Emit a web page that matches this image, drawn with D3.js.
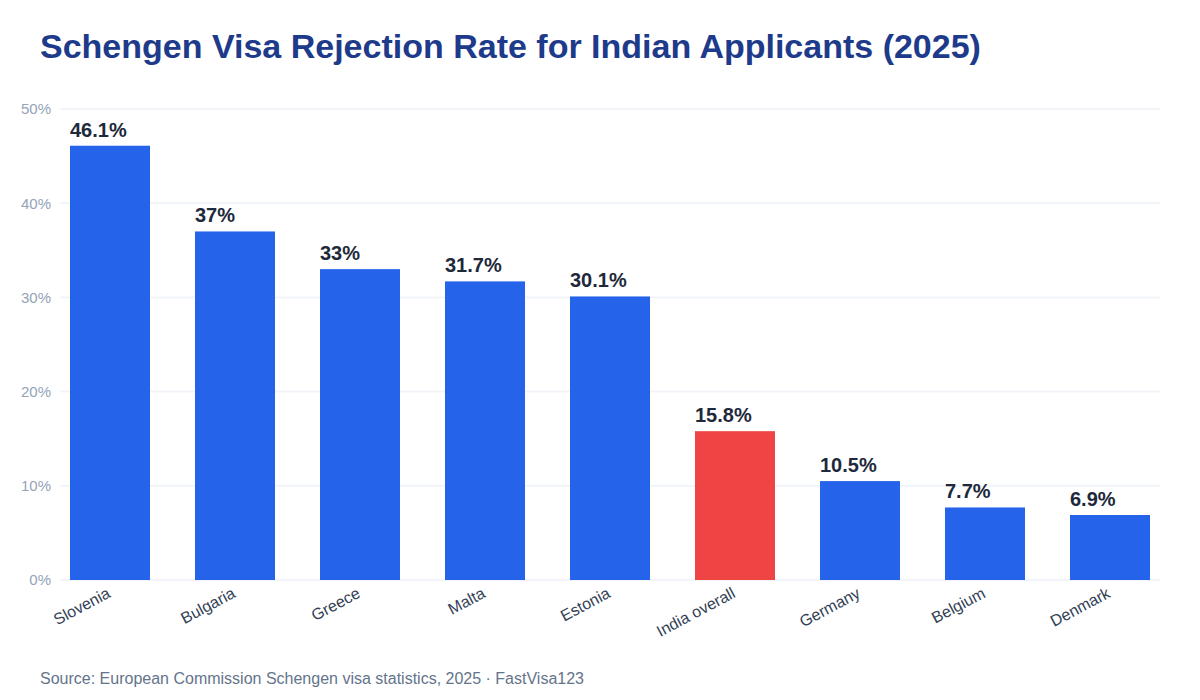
<!DOCTYPE html>
<html>
<head>
<meta charset="utf-8">
<script src="https://cdn.jsdelivr.net/npm/d3@7"></script>
<style>
  body { margin: 0; background: #fff; }
  svg text { font-family: "Liberation Sans", Arial, sans-serif; }
</style>
</head>
<body>
<svg width="1200" height="700"></svg>
<script>
// chart data
var countries = ["Slovenia", "Bulgaria", "Greece", "Malta", "Estonia", "India overall", "Germany", "Belgium", "Denmark"];
var rates = [46.1, 37, 33, 31.7, 30.1, 15.8, 10.5, 7.7, 6.9];
var highlight = "India overall";
var yTicks = [0, 10, 20, 30, 40, 50];

var svg = d3.select("svg");
var plotLeft = 60, plotRight = 1160, plotTop = 109, plotBottom = 580;

svg.append("text")
    .attr("x", 40).attr("y", 58)
    .attr("fill", "#1e3a8a")
    .attr("font-size", "34px")
    .attr("font-weight", "bold")
    .text("Schengen Visa Rejection Rate for Indian Applicants (2025)");

var x = d3.scaleBand()
    .domain(countries)
    .range([plotLeft, plotRight])
    .paddingInner(0.36)
    .paddingOuter(0.08);

var y = d3.scaleLinear()
    .domain([0, 50])
    .range([plotBottom, plotTop]);

// gridlines
svg.append("g")
    .selectAll("line")
    .data(yTicks)
    .enter().append("line")
    .attr("x1", plotLeft).attr("x2", plotRight)
    .attr("y1", function(d) { return y(d); })
    .attr("y2", function(d) { return y(d); })
    .attr("stroke", "#f1f5f9")
    .attr("stroke-width", 2);

// y axis labels
var yAxis = svg.append("g")
    .attr("transform", "translate(" + (plotLeft - 6) + ",0)")
    .call(d3.axisLeft(y).tickValues(yTicks).tickSize(0).tickFormat(function(d) { return d + "%"; }));
yAxis.select(".domain").remove();
yAxis.selectAll("text")
    .attr("fill", "#94a3b8")
    .attr("font-size", "15px")
    .attr("font-family", "Liberation Sans, Arial, sans-serif");

// bars
var data = countries.map(function(c, i) { return { name: c, value: rates[i] }; });
svg.append("g")
    .selectAll("rect")
    .data(data)
    .enter().append("rect")
    .attr("x", function(d) { return x(d.name); })
    .attr("y", function(d) { return y(d.value); })
    .attr("width", x.bandwidth())
    .attr("height", function(d) { return y(0) - y(d.value); })
    .attr("fill", function(d) { return d.name === highlight ? "#ef4444" : "#2563eb"; });

// value labels, left aligned with bar
svg.append("g")
    .selectAll("text")
    .data(data)
    .enter().append("text")
    .attr("x", function(d) { return x(d.name); })
    .attr("y", function(d) { return y(d.value) - 9; })
    .attr("fill", "#1e293b")
    .attr("font-size", "20px")
    .attr("font-weight", "bold")
    .text(function(d) { return d.value + "%"; });

// x axis labels
var xAxis = svg.append("g")
    .attr("transform", "translate(0," + plotBottom + ")")
    .call(d3.axisBottom(x).tickSize(0));
xAxis.select(".domain").remove();
xAxis.selectAll("text")
    .attr("fill", "#334155")
    .attr("font-size", "16px")
    .attr("font-family", "Liberation Sans, Arial, sans-serif")
    .attr("text-anchor", "end")
    .attr("dy", null)
    .attr("transform", "translate(0,14) rotate(-28)");

svg.append("text")
    .attr("x", 40).attr("y", 684)
    .attr("fill", "#64748b")
    .attr("font-size", "16px")
    .text("Source: European Commission Schengen visa statistics, 2025 \u00b7 FastVisa123");
</script>
</body>
</html>
